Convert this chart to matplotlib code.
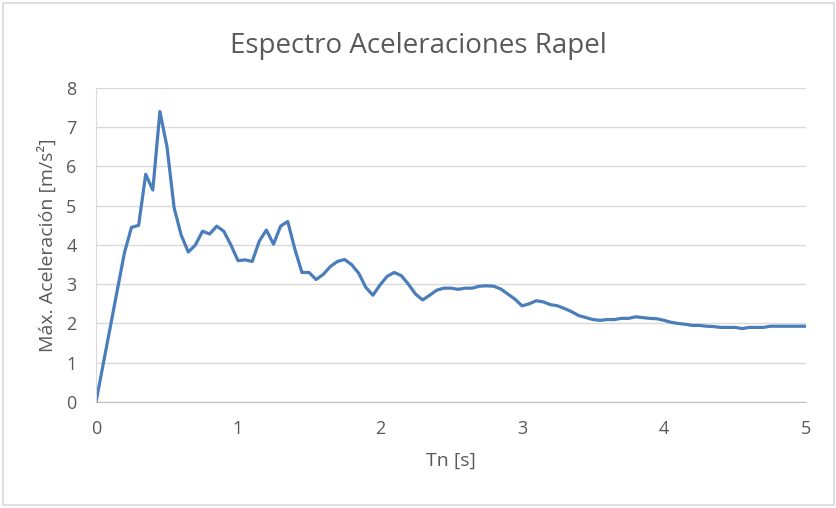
import matplotlib.pyplot as plt
from matplotlib.patches import FancyBboxPatch

# Periodo Tn [s] y aceleración máxima [m/s²]
tn = [round(0.05 * i, 2) for i in range(101)]
acel = [0.0, 0.95, 1.9, 2.85, 3.8, 4.45, 4.5, 5.8, 5.4, 7.4,
        6.5, 4.95, 4.25, 3.82, 4.0, 4.35, 4.28, 4.48, 4.35, 4.0,
        3.6, 3.62, 3.58, 4.1, 4.38, 4.02, 4.48, 4.6, 3.9, 3.3,
        3.3, 3.12, 3.25, 3.45, 3.58, 3.63, 3.5, 3.28, 2.92, 2.72,
        2.98, 3.2, 3.3, 3.22, 3.0, 2.75, 2.6, 2.72, 2.85, 2.9,
        2.9, 2.87, 2.9, 2.9, 2.95, 2.96, 2.95, 2.88, 2.75, 2.62,
        2.45, 2.5, 2.58, 2.55, 2.48, 2.45, 2.38, 2.3, 2.2, 2.15,
        2.1, 2.08, 2.1, 2.1, 2.13, 2.13, 2.17, 2.15, 2.13, 2.12,
        2.08, 2.03, 2.0, 1.98, 1.95, 1.95, 1.93, 1.92, 1.9, 1.9,
        1.9, 1.87, 1.9, 1.9, 1.9, 1.93, 1.93, 1.93, 1.93, 1.93,
        1.93]
x_ticks = [0, 1, 2, 3, 4, 5]
y_ticks = [0, 1, 2, 3, 4, 5, 6, 7, 8]

plt.rcParams['font.family'] = ['Open Sans', 'DejaVu Sans']
gris = '#595959'

fig = plt.figure(figsize=(8.37, 5.08), dpi=100)
# marco exterior del gráfico
fig.patches.append(FancyBboxPatch((0.004, 0.005), 0.992, 0.99, boxstyle='square,pad=0',
                                  transform=fig.transFigure, fill=False,
                                  edgecolor='#d9d9d9', linewidth=1.2))

ax = fig.add_axes([0.1147, 0.2087, 0.8483, 0.6181])
ax.plot(tn, acel, color='#4a7ebb', linewidth=2.3, solid_joinstyle='round')

ax.set_xlim(0, 5)
ax.set_ylim(0, 8)
ax.set_xticks(x_ticks)
ax.set_yticks(y_ticks)
ax.grid(axis='y', color='#d9d9d9', linewidth=1.0)
ax.set_axisbelow(True)
for s in ['top', 'right']:
    ax.spines[s].set_visible(False)
ax.spines['bottom'].set_color('#bfbfbf')
ax.spines['left'].set_color('#d9d9d9')
ax.tick_params(length=0, labelsize=13, colors=gris, pad=13)
ax.tick_params(axis='y', pad=14)

ax.set_xlabel('Tn [s]', fontsize=14, color=gris, labelpad=10)
ax.set_ylabel('Máx. Aceleración [m/s²]', fontsize=14, color=gris, labelpad=7)
fig.text(0.5, 0.91, 'Espectro Aceleraciones Rapel', ha='center', va='center',
         fontsize=20, color=gris)

fig.savefig('out.png', dpi=100)
